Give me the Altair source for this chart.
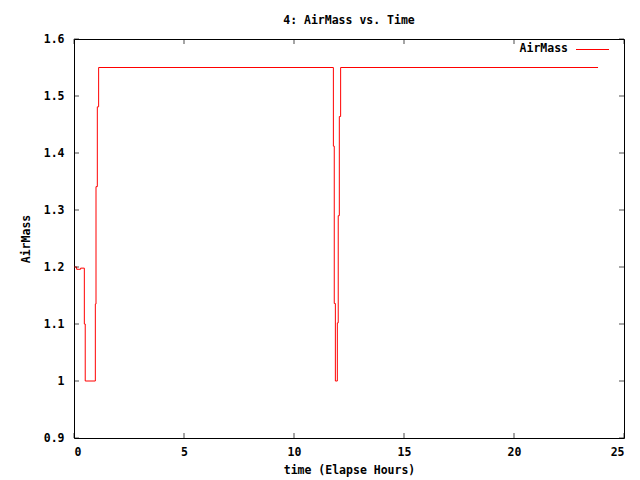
import altair as alt
import pandas as pd

# Elapsed time (hours) and AirMass values (step changes)
hours = [0.0, 0.12, 0.30, 0.47, 0.51, 0.97, 1.00, 1.06, 1.12,
         11.79, 11.83, 11.88, 11.97, 12.01, 12.06, 12.12, 23.82]
airmass = [1.200, 1.196, 1.198, 1.100, 1.000, 1.135, 1.341, 1.481, 1.550,
           1.412, 1.136, 1.000, 1.102, 1.290, 1.464, 1.550, 1.550]

x_ticks = [0, 5, 10, 15, 20, 25]
y_ticks = [0.9, 1.0, 1.1, 1.2, 1.3, 1.4, 1.5, 1.6]
series_name = "AirMass"

W, H = 550, 399
FONT = "DejaVu Sans Mono"
FS = 11.5
RED = "#ff0000"

df = pd.DataFrame({"t": hours, "v": airmass})
xt = pd.DataFrame({"t": x_ticks})
yt = pd.DataFrame({"v": y_ticks})

xscale = alt.Scale(domain=[0, 25], nice=False, zero=False)
yscale = alt.Scale(domain=[0.9, 1.6], nice=False, zero=False)

line = alt.Chart(df).mark_line(
    interpolate="step-after", color=RED, strokeWidth=1
).encode(
    x=alt.X("t:Q", scale=xscale, axis=alt.Axis(
        values=x_ticks, ticks=False, domain=False, grid=False,
        labelPadding=8, title="time (Elapse Hours)",
        titleX=W / 2, titleY=32, titleBaseline="middle",
    )),
    y=alt.Y("v:Q", scale=yscale, axis=alt.Axis(
        values=y_ticks, format="~g", ticks=False, domain=False, grid=False,
        labelPadding=10, title="AirMass",
        titleX=-48, titleY=H / 2, titleBaseline="middle", titleAngle=270,
    )),
)

xt_bottom = alt.Chart(xt).mark_tick(orient="vertical", size=5, thickness=1, color="black").encode(
    x=alt.X("t:Q", scale=xscale), y=alt.value(H - 2.5))
xt_top = alt.Chart(xt).mark_tick(orient="vertical", size=5, thickness=1, color="black").encode(
    x=alt.X("t:Q", scale=xscale), y=alt.value(2.5))
yt_left = alt.Chart(yt).mark_tick(orient="horizontal", size=5, thickness=1, color="black").encode(
    y=alt.Y("v:Q", scale=yscale), x=alt.value(2.5))
yt_right = alt.Chart(yt).mark_tick(orient="horizontal", size=5, thickness=1, color="black").encode(
    y=alt.Y("v:Q", scale=yscale), x=alt.value(W - 2.5))

leg_df = pd.DataFrame({"name": [series_name]})
leg_text = alt.Chart(leg_df).mark_text(
    align="right", baseline="middle", font=FONT, fontSize=FS, fontWeight="bold", color="black"
).encode(text="name:N", x=alt.value(494), y=alt.value(10))
leg_line = alt.Chart(leg_df).mark_rule(color=RED, strokeWidth=1).encode(
    x=alt.value(502), x2=alt.value(535), y=alt.value(10.5))

chart = alt.layer(
    line, xt_bottom, xt_top, yt_left, yt_right, leg_text, leg_line
).properties(
    width=W, height=H,
    background="white",
    title=alt.TitleParams("4: AirMass vs. Time", anchor="middle", offset=7),
    autosize=alt.AutoSizeParams(type="none"),
    padding={"left": 66, "top": 31, "right": 8, "bottom": 42},
).configure_view(
    stroke="black", strokeWidth=1
).configure_axis(
    labelFont=FONT, labelFontSize=FS, labelFontWeight="bold", labelColor="black",
    titleFont=FONT, titleFontSize=FS, titleFontWeight="bold", titleColor="black",
).configure_title(
    font=FONT, fontSize=FS, fontWeight="bold", color="black"
)

chart.save("out.html", embed_options={"renderer": "svg", "actions": False})
